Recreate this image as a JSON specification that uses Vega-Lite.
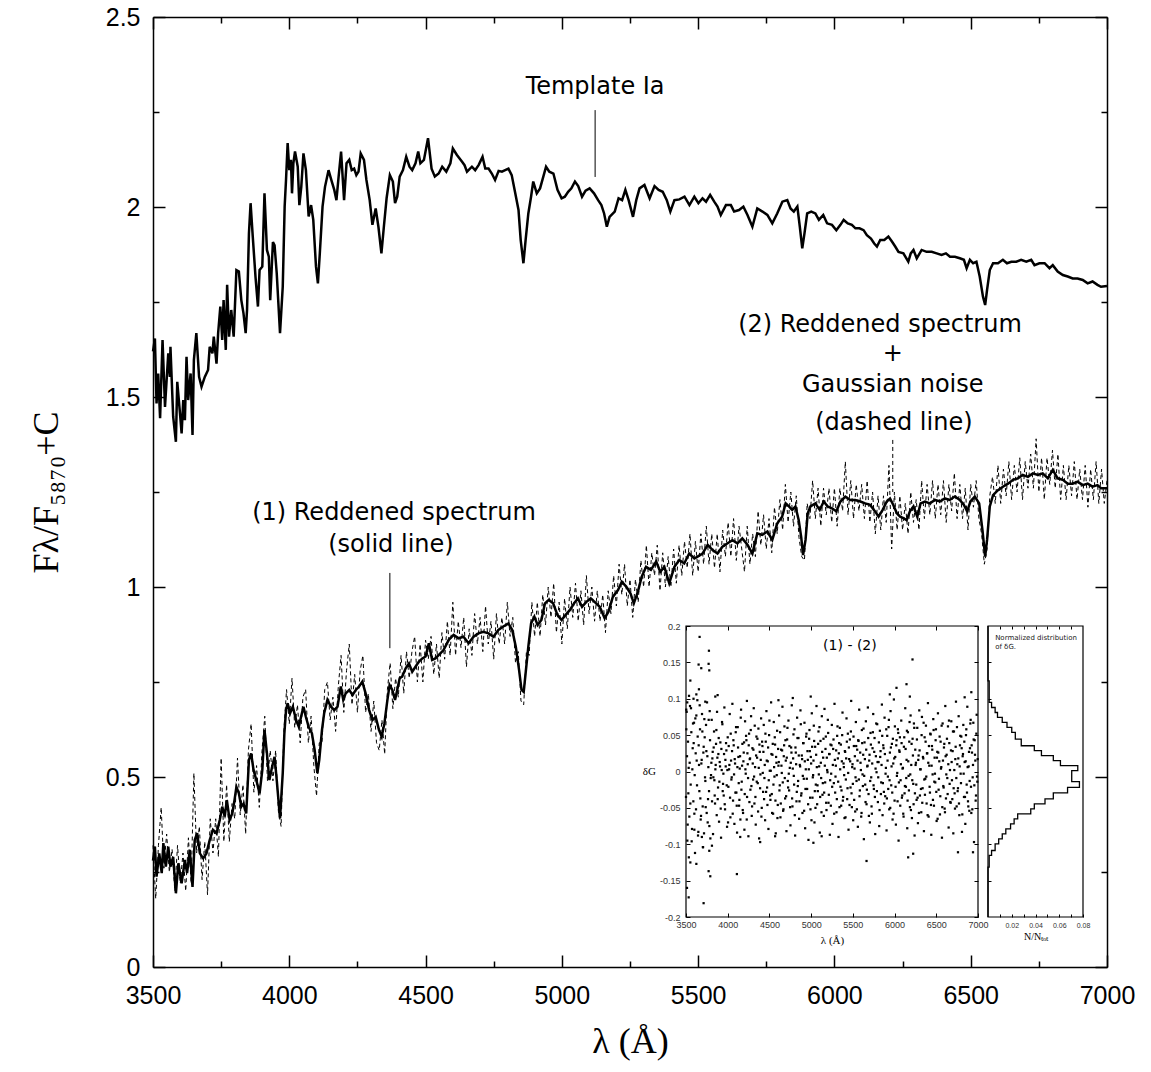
{
"$schema": "https://vega.github.io/schema/vega-lite/v6.json",
"width": 954, "height": 950,
"autosize": {"type": "none"},
"padding": {"left": 153, "top": 17, "right": 44, "bottom": 105},
"background": "white",
"config": {
  "view": {"stroke": null},
  "axis": {"grid": false, "domainColor": "black", "tickColor": "black", "labelColor": "black", "titleColor": "black", "titleFontWeight": "normal", "labelFlush": false, "labelOverlap": false}
},
"datasets": {
"tm": [{"w":3500,"v":1.62},{"w":3507,"v":1.654},{"w":3513,"v":1.483},{"w":3519,"v":1.562},{"w":3526,"v":1.444},{"w":3535,"v":1.65},{"w":3544,"v":1.474},{"w":3556,"v":1.615},{"w":3562,"v":1.553},{"w":3564,"v":1.632},{"w":3574,"v":1.448},{"w":3584,"v":1.382},{"w":3589,"v":1.54},{"w":3599,"v":1.457},{"w":3605,"v":1.404},{"w":3611,"v":1.492},{"w":3617,"v":1.439},{"w":3623,"v":1.606},{"w":3629,"v":1.492},{"w":3638,"v":1.562},{"w":3645,"v":1.4},{"w":3650,"v":1.597},{"w":3659,"v":1.668},{"w":3669,"v":1.553},{"w":3678,"v":1.527},{"w":3690,"v":1.553},{"w":3702,"v":1.571},{"w":3708,"v":1.632},{"w":3718,"v":1.615},{"w":3723,"v":1.659},{"w":3733,"v":1.588},{"w":3739,"v":1.668},{"w":3747,"v":1.738},{"w":3754,"v":1.65},{"w":3759,"v":1.755},{"w":3767,"v":1.624},{"w":3772,"v":1.795},{"w":3779,"v":1.659},{"w":3787,"v":1.729},{"w":3796,"v":1.659},{"w":3806,"v":1.834},{"w":3815,"v":1.83},{"w":3824,"v":1.755},{"w":3832,"v":1.72},{"w":3840,"v":1.668},{"w":3845,"v":1.729},{"w":3852,"v":1.931},{"w":3858,"v":2.01},{"w":3866,"v":1.922},{"w":3876,"v":1.817},{"w":3885,"v":1.738},{"w":3891,"v":1.834},{"w":3901,"v":1.843},{"w":3909,"v":2.036},{"w":3918,"v":1.887},{"w":3925,"v":1.869},{"w":3930,"v":1.755},{"w":3940,"v":1.908},{"w":3946,"v":1.899},{"w":3954,"v":1.825},{"w":3966,"v":1.668},{"w":3976,"v":1.79},{"w":3983,"v":2.001},{"w":3988,"v":2.071},{"w":3994,"v":2.168},{"w":4000,"v":2.097},{"w":4006,"v":2.124},{"w":4010,"v":2.036},{"w":4015,"v":2.115},{"w":4021,"v":2.146},{"w":4031,"v":2.106},{"w":4037,"v":2.005},{"w":4044,"v":2.053},{"w":4052,"v":2.141},{"w":4061,"v":2.097},{"w":4071,"v":1.975},{"w":4080,"v":2.005},{"w":4088,"v":1.966},{"w":4098,"v":1.843},{"w":4105,"v":1.799},{"w":4112,"v":1.878},{"w":4122,"v":2.001},{"w":4131,"v":2.053},{"w":4144,"v":2.097},{"w":4156,"v":2.067},{"w":4165,"v":2.045},{"w":4173,"v":2.018},{"w":4181,"v":2.08},{"w":4190,"v":2.146},{"w":4201,"v":2.018},{"w":4210,"v":2.115},{"w":4220,"v":2.124},{"w":4229,"v":2.097},{"w":4238,"v":2.101},{"w":4246,"v":2.084},{"w":4254,"v":2.093},{"w":4262,"v":2.141},{"w":4274,"v":2.124},{"w":4283,"v":2.071},{"w":4295,"v":2.018},{"w":4305,"v":1.953},{"w":4317,"v":1.996},{"w":4327,"v":1.948},{"w":4338,"v":1.878},{"w":4347,"v":1.948},{"w":4357,"v":2.023},{"w":4369,"v":2.084},{"w":4380,"v":2.067},{"w":4388,"v":2.01},{"w":4396,"v":2.027},{"w":4405,"v":2.08},{"w":4417,"v":2.097},{"w":4429,"v":2.132},{"w":4441,"v":2.106},{"w":4451,"v":2.097},{"w":4463,"v":2.115},{"w":4473,"v":2.146},{"w":4481,"v":2.115},{"w":4494,"v":2.124},{"w":4509,"v":2.181},{"w":4522,"v":2.101},{"w":4534,"v":2.08},{"w":4548,"v":2.088},{"w":4561,"v":2.106},{"w":4576,"v":2.093},{"w":4591,"v":2.115},{"w":4600,"v":2.154},{"w":4615,"v":2.137},{"w":4634,"v":2.119},{"w":4643,"v":2.11},{"w":4652,"v":2.093},{"w":4670,"v":2.106},{"w":4682,"v":2.097},{"w":4695,"v":2.111},{"w":4709,"v":2.132},{"w":4719,"v":2.101},{"w":4731,"v":2.101},{"w":4743,"v":2.088},{"w":4755,"v":2.071},{"w":4768,"v":2.095},{"w":4780,"v":2.093},{"w":4792,"v":2.097},{"w":4804,"v":2.101},{"w":4816,"v":2.084},{"w":4828,"v":2.04},{"w":4841,"v":1.992},{"w":4849,"v":1.913},{"w":4859,"v":1.852},{"w":4867,"v":1.913},{"w":4877,"v":1.983},{"w":4887,"v":2.027},{"w":4895,"v":2.067},{"w":4908,"v":2.036},{"w":4920,"v":2.049},{"w":4932,"v":2.08},{"w":4942,"v":2.106},{"w":4954,"v":2.093},{"w":4969,"v":2.088},{"w":4984,"v":2.045},{"w":4999,"v":2.023},{"w":5011,"v":2.027},{"w":5023,"v":2.04},{"w":5035,"v":2.049},{"w":5048,"v":2.067},{"w":5060,"v":2.055},{"w":5074,"v":2.027},{"w":5087,"v":2.043},{"w":5102,"v":2.049},{"w":5118,"v":2.036},{"w":5133,"v":2.018},{"w":5145,"v":2.005},{"w":5155,"v":1.983},{"w":5165,"v":1.948},{"w":5175,"v":1.974},{"w":5194,"v":1.988},{"w":5208,"v":2.023},{"w":5221,"v":2.018},{"w":5233,"v":2.045},{"w":5245,"v":2.018},{"w":5261,"v":1.974},{"w":5273,"v":2.018},{"w":5285,"v":2.049},{"w":5303,"v":2.058},{"w":5322,"v":2.023},{"w":5340,"v":2.055},{"w":5355,"v":2.045},{"w":5370,"v":2.04},{"w":5385,"v":2.018},{"w":5398,"v":1.988},{"w":5413,"v":2.018},{"w":5431,"v":2.02},{"w":5450,"v":2.027},{"w":5468,"v":2.005},{"w":5486,"v":2.027},{"w":5501,"v":2.01},{"w":5516,"v":2.023},{"w":5529,"v":2.014},{"w":5544,"v":2.032},{"w":5559,"v":2.014},{"w":5571,"v":2.001},{"w":5583,"v":1.979},{"w":5602,"v":2.005},{"w":5620,"v":2.005},{"w":5632,"v":1.988},{"w":5650,"v":1.992},{"w":5666,"v":2.001},{"w":5681,"v":1.979},{"w":5699,"v":1.948},{"w":5717,"v":1.996},{"w":5736,"v":1.988},{"w":5754,"v":1.979},{"w":5772,"v":1.957},{"w":5790,"v":1.983},{"w":5809,"v":2.014},{"w":5827,"v":2.018},{"w":5839,"v":1.996},{"w":5851,"v":1.988},{"w":5864,"v":2.001},{"w":5873,"v":1.948},{"w":5882,"v":1.891},{"w":5890,"v":1.93},{"w":5900,"v":1.983},{"w":5915,"v":1.988},{"w":5930,"v":1.983},{"w":5943,"v":1.966},{"w":5959,"v":1.979},{"w":5973,"v":1.957},{"w":5991,"v":1.953},{"w":6007,"v":1.939},{"w":6022,"v":1.953},{"w":6034,"v":1.966},{"w":6049,"v":1.957},{"w":6064,"v":1.953},{"w":6077,"v":1.944},{"w":6092,"v":1.944},{"w":6107,"v":1.939},{"w":6119,"v":1.926},{"w":6134,"v":1.917},{"w":6146,"v":1.904},{"w":6156,"v":1.896},{"w":6168,"v":1.913},{"w":6183,"v":1.913},{"w":6198,"v":1.922},{"w":6211,"v":1.909},{"w":6223,"v":1.896},{"w":6235,"v":1.882},{"w":6253,"v":1.878},{"w":6271,"v":1.856},{"w":6280,"v":1.878},{"w":6290,"v":1.887},{"w":6302,"v":1.865},{"w":6320,"v":1.887},{"w":6338,"v":1.882},{"w":6357,"v":1.882},{"w":6375,"v":1.878},{"w":6393,"v":1.874},{"w":6409,"v":1.878},{"w":6424,"v":1.869},{"w":6442,"v":1.869},{"w":6460,"v":1.865},{"w":6475,"v":1.861},{"w":6485,"v":1.839},{"w":6497,"v":1.861},{"w":6509,"v":1.852},{"w":6521,"v":1.856},{"w":6533,"v":1.817},{"w":6545,"v":1.764},{"w":6553,"v":1.742},{"w":6560,"v":1.782},{"w":6570,"v":1.834},{"w":6582,"v":1.852},{"w":6600,"v":1.852},{"w":6618,"v":1.861},{"w":6633,"v":1.852},{"w":6649,"v":1.856},{"w":6667,"v":1.856},{"w":6685,"v":1.861},{"w":6704,"v":1.856},{"w":6722,"v":1.861},{"w":6734,"v":1.847},{"w":6752,"v":1.852},{"w":6771,"v":1.852},{"w":6789,"v":1.839},{"w":6801,"v":1.847},{"w":6819,"v":1.83},{"w":6838,"v":1.821},{"w":6856,"v":1.817},{"w":6874,"v":1.812},{"w":6892,"v":1.812},{"w":6911,"v":1.808},{"w":6929,"v":1.799},{"w":6947,"v":1.804},{"w":6965,"v":1.795},{"w":6978,"v":1.79},{"w":7000,"v":1.792}],
"rd": [{"w":3500,"v":0.28},{"w":3507,"v":0.317},{"w":3513,"v":0.238},{"w":3523,"v":0.299},{"w":3532,"v":0.247},{"w":3538,"v":0.326},{"w":3547,"v":0.264},{"w":3556,"v":0.317},{"w":3564,"v":0.264},{"w":3574,"v":0.29},{"w":3584,"v":0.194},{"w":3593,"v":0.273},{"w":3605,"v":0.22},{"w":3617,"v":0.282},{"w":3625,"v":0.247},{"w":3635,"v":0.308},{"w":3645,"v":0.211},{"w":3653,"v":0.334},{"w":3662,"v":0.352},{"w":3672,"v":0.299},{"w":3684,"v":0.286},{"w":3696,"v":0.299},{"w":3708,"v":0.334},{"w":3720,"v":0.361},{"w":3733,"v":0.352},{"w":3745,"v":0.387},{"w":3754,"v":0.422},{"w":3763,"v":0.396},{"w":3771,"v":0.439},{"w":3781,"v":0.387},{"w":3791,"v":0.404},{"w":3799,"v":0.439},{"w":3806,"v":0.474},{"w":3815,"v":0.457},{"w":3824,"v":0.422},{"w":3832,"v":0.43},{"w":3842,"v":0.404},{"w":3852,"v":0.545},{"w":3860,"v":0.562},{"w":3869,"v":0.518},{"w":3879,"v":0.492},{"w":3891,"v":0.457},{"w":3901,"v":0.518},{"w":3909,"v":0.624},{"w":3918,"v":0.562},{"w":3927,"v":0.492},{"w":3937,"v":0.527},{"w":3946,"v":0.553},{"w":3954,"v":0.492},{"w":3966,"v":0.391},{"w":3976,"v":0.51},{"w":3982,"v":0.615},{"w":3988,"v":0.676},{"w":3994,"v":0.694},{"w":4003,"v":0.668},{"w":4013,"v":0.685},{"w":4025,"v":0.65},{"w":4035,"v":0.632},{"w":4043,"v":0.658},{"w":4052,"v":0.685},{"w":4061,"v":0.658},{"w":4071,"v":0.632},{"w":4083,"v":0.615},{"w":4093,"v":0.571},{"w":4103,"v":0.51},{"w":4110,"v":0.545},{"w":4120,"v":0.624},{"w":4128,"v":0.668},{"w":4140,"v":0.703},{"w":4153,"v":0.685},{"w":4165,"v":0.676},{"w":4177,"v":0.685},{"w":4189,"v":0.738},{"w":4198,"v":0.703},{"w":4207,"v":0.72},{"w":4220,"v":0.729},{"w":4232,"v":0.716},{"w":4244,"v":0.729},{"w":4256,"v":0.738},{"w":4268,"v":0.751},{"w":4280,"v":0.72},{"w":4293,"v":0.676},{"w":4305,"v":0.65},{"w":4317,"v":0.658},{"w":4329,"v":0.624},{"w":4339,"v":0.606},{"w":4349,"v":0.641},{"w":4360,"v":0.703},{"w":4368,"v":0.742},{"w":4378,"v":0.729},{"w":4388,"v":0.703},{"w":4396,"v":0.729},{"w":4405,"v":0.76},{"w":4414,"v":0.764},{"w":4427,"v":0.786},{"w":4439,"v":0.799},{"w":4451,"v":0.777},{"w":4463,"v":0.79},{"w":4475,"v":0.803},{"w":4488,"v":0.812},{"w":4500,"v":0.817},{"w":4512,"v":0.852},{"w":4524,"v":0.808},{"w":4536,"v":0.812},{"w":4548,"v":0.821},{"w":4566,"v":0.834},{"w":4585,"v":0.861},{"w":4603,"v":0.874},{"w":4621,"v":0.865},{"w":4639,"v":0.869},{"w":4658,"v":0.852},{"w":4676,"v":0.869},{"w":4694,"v":0.878},{"w":4712,"v":0.882},{"w":4731,"v":0.878},{"w":4749,"v":0.869},{"w":4767,"v":0.887},{"w":4785,"v":0.896},{"w":4804,"v":0.904},{"w":4818,"v":0.887},{"w":4831,"v":0.843},{"w":4843,"v":0.782},{"w":4852,"v":0.729},{"w":4860,"v":0.724},{"w":4867,"v":0.773},{"w":4877,"v":0.843},{"w":4887,"v":0.904},{"w":4899,"v":0.922},{"w":4911,"v":0.9},{"w":4925,"v":0.913},{"w":4938,"v":0.957},{"w":4952,"v":0.966},{"w":4968,"v":0.957},{"w":4984,"v":0.926},{"w":4999,"v":0.913},{"w":5013,"v":0.926},{"w":5029,"v":0.939},{"w":5045,"v":0.957},{"w":5059,"v":0.97},{"w":5074,"v":0.948},{"w":5090,"v":0.961},{"w":5106,"v":0.97},{"w":5120,"v":0.961},{"w":5139,"v":0.948},{"w":5157,"v":0.918},{"w":5171,"v":0.935},{"w":5187,"v":0.974},{"w":5206,"v":0.992},{"w":5220,"v":1.014},{"w":5236,"v":1.001},{"w":5252,"v":0.983},{"w":5264,"v":0.957},{"w":5279,"v":0.988},{"w":5293,"v":1.027},{"w":5309,"v":1.053},{"w":5327,"v":1.045},{"w":5346,"v":1.067},{"w":5361,"v":1.04},{"w":5376,"v":1.053},{"w":5394,"v":1.01},{"w":5413,"v":1.053},{"w":5431,"v":1.071},{"w":5449,"v":1.062},{"w":5467,"v":1.088},{"w":5486,"v":1.075},{"w":5498,"v":1.08},{"w":5516,"v":1.088},{"w":5535,"v":1.111},{"w":5553,"v":1.097},{"w":5571,"v":1.088},{"w":5589,"v":1.106},{"w":5608,"v":1.115},{"w":5626,"v":1.123},{"w":5644,"v":1.115},{"w":5662,"v":1.128},{"w":5681,"v":1.111},{"w":5699,"v":1.088},{"w":5717,"v":1.141},{"w":5735,"v":1.137},{"w":5754,"v":1.146},{"w":5772,"v":1.124},{"w":5790,"v":1.167},{"w":5808,"v":1.185},{"w":5821,"v":1.22},{"w":5833,"v":1.212},{"w":5845,"v":1.203},{"w":5857,"v":1.212},{"w":5869,"v":1.176},{"w":5878,"v":1.132},{"w":5885,"v":1.084},{"w":5894,"v":1.124},{"w":5902,"v":1.194},{"w":5912,"v":1.212},{"w":5930,"v":1.22},{"w":5946,"v":1.203},{"w":5961,"v":1.225},{"w":5975,"v":1.212},{"w":5991,"v":1.207},{"w":6007,"v":1.199},{"w":6022,"v":1.225},{"w":6040,"v":1.238},{"w":6058,"v":1.229},{"w":6076,"v":1.229},{"w":6095,"v":1.225},{"w":6113,"v":1.22},{"w":6131,"v":1.216},{"w":6149,"v":1.199},{"w":6162,"v":1.185},{"w":6177,"v":1.203},{"w":6192,"v":1.225},{"w":6204,"v":1.233},{"w":6216,"v":1.216},{"w":6229,"v":1.194},{"w":6241,"v":1.185},{"w":6253,"v":1.181},{"w":6265,"v":1.176},{"w":6277,"v":1.199},{"w":6290,"v":1.212},{"w":6304,"v":1.185},{"w":6316,"v":1.22},{"w":6332,"v":1.225},{"w":6350,"v":1.22},{"w":6369,"v":1.229},{"w":6387,"v":1.225},{"w":6405,"v":1.233},{"w":6423,"v":1.229},{"w":6442,"v":1.238},{"w":6460,"v":1.229},{"w":6475,"v":1.216},{"w":6487,"v":1.199},{"w":6499,"v":1.225},{"w":6515,"v":1.238},{"w":6531,"v":1.22},{"w":6543,"v":1.15},{"w":6553,"v":1.08},{"w":6560,"v":1.124},{"w":6570,"v":1.212},{"w":6582,"v":1.242},{"w":6600,"v":1.255},{"w":6618,"v":1.264},{"w":6637,"v":1.272},{"w":6655,"v":1.282},{"w":6673,"v":1.286},{"w":6691,"v":1.295},{"w":6710,"v":1.29},{"w":6728,"v":1.299},{"w":6746,"v":1.295},{"w":6764,"v":1.299},{"w":6783,"v":1.286},{"w":6801,"v":1.308},{"w":6819,"v":1.286},{"w":6838,"v":1.282},{"w":6856,"v":1.272},{"w":6874,"v":1.272},{"w":6892,"v":1.277},{"w":6911,"v":1.268},{"w":6929,"v":1.272},{"w":6947,"v":1.264},{"w":6965,"v":1.268},{"w":6978,"v":1.26},{"w":7000,"v":1.26}],
"ns": [{"w":3500,"v":0.32},{"w":3510,"v":0.18},{"w":3520,"v":0.32},{"w":3530,"v":0.42},{"w":3540,"v":0.26},{"w":3550,"v":0.35},{"w":3560,"v":0.25},{"w":3570,"v":0.31},{"w":3580,"v":0.2},{"w":3590,"v":0.32},{"w":3600,"v":0.22},{"w":3610,"v":0.3},{"w":3620,"v":0.2},{"w":3630,"v":0.34},{"w":3640,"v":0.22},{"w":3650,"v":0.51},{"w":3660,"v":0.3},{"w":3670,"v":0.37},{"w":3680,"v":0.23},{"w":3690,"v":0.33},{"w":3700,"v":0.19},{"w":3710,"v":0.39},{"w":3720,"v":0.3},{"w":3730,"v":0.39},{"w":3740,"v":0.29},{"w":3750,"v":0.55},{"w":3760,"v":0.33},{"w":3770,"v":0.48},{"w":3780,"v":0.33},{"w":3790,"v":0.43},{"w":3800,"v":0.39},{"w":3810,"v":0.55},{"w":3820,"v":0.4},{"w":3830,"v":0.48},{"w":3840,"v":0.35},{"w":3850,"v":0.57},{"w":3860,"v":0.64},{"w":3870,"v":0.46},{"w":3880,"v":0.53},{"w":3890,"v":0.42},{"w":3900,"v":0.57},{"w":3910,"v":0.66},{"w":3920,"v":0.49},{"w":3930,"v":0.57},{"w":3940,"v":0.49},{"w":3950,"v":0.57},{"w":3960,"v":0.41},{"w":3970,"v":0.37},{"w":3980,"v":0.62},{"w":3990,"v":0.73},{"w":4000,"v":0.64},{"w":4010,"v":0.76},{"w":4020,"v":0.63},{"w":4030,"v":0.69},{"w":4040,"v":0.59},{"w":4050,"v":0.71},{"w":4060,"v":0.73},{"w":4070,"v":0.59},{"w":4080,"v":0.66},{"w":4090,"v":0.53},{"w":4100,"v":0.45},{"w":4110,"v":0.59},{"w":4120,"v":0.59},{"w":4130,"v":0.73},{"w":4140,"v":0.75},{"w":4150,"v":0.65},{"w":4160,"v":0.71},{"w":4170,"v":0.62},{"w":4180,"v":0.74},{"w":4190,"v":0.82},{"w":4200,"v":0.67},{"w":4210,"v":0.78},{"w":4220,"v":0.85},{"w":4230,"v":0.69},{"w":4240,"v":0.77},{"w":4250,"v":0.67},{"w":4260,"v":0.78},{"w":4270,"v":0.82},{"w":4280,"v":0.67},{"w":4290,"v":0.72},{"w":4300,"v":0.62},{"w":4310,"v":0.7},{"w":4320,"v":0.59},{"w":4330,"v":0.57},{"w":4340,"v":0.65},{"w":4350,"v":0.56},{"w":4360,"v":0.73},{"w":4370,"v":0.8},{"w":4380,"v":0.68},{"w":4390,"v":0.76},{"w":4400,"v":0.71},{"w":4410,"v":0.82},{"w":4420,"v":0.72},{"w":4430,"v":0.83},{"w":4440,"v":0.76},{"w":4450,"v":0.83},{"w":4460,"v":0.87},{"w":4470,"v":0.75},{"w":4480,"v":0.85},{"w":4490,"v":0.75},{"w":4500,"v":0.86},{"w":4510,"v":0.81},{"w":4520,"v":0.87},{"w":4530,"v":0.77},{"w":4540,"v":0.85},{"w":4550,"v":0.76},{"w":4560,"v":0.88},{"w":4570,"v":0.81},{"w":4580,"v":0.91},{"w":4590,"v":0.82},{"w":4600,"v":0.96},{"w":4610,"v":0.82},{"w":4620,"v":0.91},{"w":4630,"v":0.84},{"w":4640,"v":0.92},{"w":4650,"v":0.79},{"w":4660,"v":0.89},{"w":4670,"v":0.82},{"w":4680,"v":0.93},{"w":4690,"v":0.85},{"w":4700,"v":0.92},{"w":4710,"v":0.83},{"w":4720,"v":0.95},{"w":4730,"v":0.85},{"w":4740,"v":0.91},{"w":4750,"v":0.81},{"w":4760,"v":0.93},{"w":4770,"v":0.85},{"w":4780,"v":0.92},{"w":4790,"v":0.85},{"w":4800,"v":0.96},{"w":4810,"v":0.87},{"w":4820,"v":0.92},{"w":4830,"v":0.8},{"w":4840,"v":0.83},{"w":4850,"v":0.7},{"w":4860,"v":0.69},{"w":4870,"v":0.83},{"w":4880,"v":0.82},{"w":4890,"v":0.96},{"w":4900,"v":0.87},{"w":4910,"v":0.96},{"w":4920,"v":0.87},{"w":4930,"v":0.98},{"w":4940,"v":0.9},{"w":4950,"v":1.0},{"w":4960,"v":0.92},{"w":4970,"v":1.01},{"w":4980,"v":0.88},{"w":4990,"v":0.96},{"w":5000,"v":0.85},{"w":5010,"v":0.97},{"w":5020,"v":0.89},{"w":5030,"v":1.0},{"w":5040,"v":0.92},{"w":5050,"v":1.01},{"w":5060,"v":0.91},{"w":5070,"v":0.99},{"w":5080,"v":0.9},{"w":5090,"v":1.03},{"w":5100,"v":0.93},{"w":5110,"v":1.0},{"w":5120,"v":0.91},{"w":5130,"v":0.99},{"w":5140,"v":0.91},{"w":5150,"v":0.98},{"w":5160,"v":0.88},{"w":5170,"v":0.99},{"w":5180,"v":0.93},{"w":5190,"v":1.03},{"w":5200,"v":0.95},{"w":5210,"v":1.06},{"w":5220,"v":0.98},{"w":5230,"v":1.06},{"w":5240,"v":0.95},{"w":5250,"v":1.02},{"w":5260,"v":0.92},{"w":5270,"v":1.02},{"w":5280,"v":0.96},{"w":5290,"v":1.07},{"w":5300,"v":1.0},{"w":5310,"v":1.11},{"w":5320,"v":1.0},{"w":5330,"v":1.09},{"w":5340,"v":1.03},{"w":5350,"v":1.11},{"w":5360,"v":0.99},{"w":5370,"v":1.09},{"w":5380,"v":1.0},{"w":5390,"v":1.08},{"w":5400,"v":1.0},{"w":5410,"v":1.1},{"w":5420,"v":1.01},{"w":5430,"v":1.11},{"w":5440,"v":1.03},{"w":5450,"v":1.12},{"w":5460,"v":1.05},{"w":5470,"v":1.14},{"w":5480,"v":1.03},{"w":5490,"v":1.12},{"w":5500,"v":1.04},{"w":5510,"v":1.14},{"w":5520,"v":1.06},{"w":5530,"v":1.16},{"w":5540,"v":1.06},{"w":5550,"v":1.14},{"w":5560,"v":1.05},{"w":5570,"v":1.14},{"w":5580,"v":1.04},{"w":5590,"v":1.15},{"w":5600,"v":1.08},{"w":5610,"v":1.17},{"w":5620,"v":1.08},{"w":5630,"v":1.18},{"w":5640,"v":1.07},{"w":5650,"v":1.16},{"w":5660,"v":1.1},{"w":5670,"v":1.04},{"w":5680,"v":1.16},{"w":5690,"v":1.06},{"w":5700,"v":1.14},{"w":5710,"v":1.08},{"w":5720,"v":1.2},{"w":5730,"v":1.11},{"w":5740,"v":1.19},{"w":5750,"v":1.1},{"w":5760,"v":1.18},{"w":5770,"v":1.09},{"w":5780,"v":1.21},{"w":5790,"v":1.14},{"w":5800,"v":1.23},{"w":5810,"v":1.15},{"w":5820,"v":1.27},{"w":5830,"v":1.17},{"w":5840,"v":1.25},{"w":5850,"v":1.16},{"w":5860,"v":1.24},{"w":5870,"v":1.13},{"w":5880,"v":1.08},{"w":5890,"v":1.07},{"w":5900,"v":1.22},{"w":5910,"v":1.18},{"w":5920,"v":1.28},{"w":5930,"v":1.18},{"w":5940,"v":1.26},{"w":5950,"v":1.16},{"w":5960,"v":1.26},{"w":5970,"v":1.19},{"w":5980,"v":1.26},{"w":5990,"v":1.17},{"w":6000,"v":1.26},{"w":6010,"v":1.16},{"w":6020,"v":1.26},{"w":6030,"v":1.2},{"w":6040,"v":1.33},{"w":6050,"v":1.19},{"w":6060,"v":1.28},{"w":6070,"v":1.18},{"w":6080,"v":1.27},{"w":6090,"v":1.2},{"w":6100,"v":1.27},{"w":6110,"v":1.18},{"w":6120,"v":1.28},{"w":6130,"v":1.17},{"w":6140,"v":1.25},{"w":6150,"v":1.14},{"w":6160,"v":1.24},{"w":6170,"v":1.15},{"w":6180,"v":1.24},{"w":6190,"v":1.17},{"w":6200,"v":1.32},{"w":6210,"v":1.1},{"w":6220,"v":1.25},{"w":6230,"v":1.15},{"w":6240,"v":1.24},{"w":6250,"v":1.15},{"w":6260,"v":1.22},{"w":6270,"v":1.14},{"w":6280,"v":1.25},{"w":6290,"v":1.17},{"w":6300,"v":1.23},{"w":6310,"v":1.15},{"w":6320,"v":1.28},{"w":6330,"v":1.18},{"w":6340,"v":1.27},{"w":6350,"v":1.19},{"w":6360,"v":1.28},{"w":6370,"v":1.18},{"w":6380,"v":1.27},{"w":6390,"v":1.19},{"w":6400,"v":1.28},{"w":6410,"v":1.17},{"w":6420,"v":1.27},{"w":6430,"v":1.2},{"w":6440,"v":1.3},{"w":6450,"v":1.18},{"w":6460,"v":1.27},{"w":6470,"v":1.18},{"w":6480,"v":1.26},{"w":6490,"v":1.15},{"w":6500,"v":1.27},{"w":6510,"v":1.21},{"w":6520,"v":1.28},{"w":6530,"v":1.18},{"w":6540,"v":1.14},{"w":6550,"v":1.06},{"w":6560,"v":1.1},{"w":6570,"v":1.24},{"w":6580,"v":1.29},{"w":6590,"v":1.22},{"w":6600,"v":1.32},{"w":6610,"v":1.22},{"w":6620,"v":1.31},{"w":6630,"v":1.24},{"w":6640,"v":1.33},{"w":6650,"v":1.23},{"w":6660,"v":1.32},{"w":6670,"v":1.25},{"w":6680,"v":1.34},{"w":6690,"v":1.23},{"w":6700,"v":1.33},{"w":6710,"v":1.26},{"w":6720,"v":1.35},{"w":6730,"v":1.26},{"w":6740,"v":1.39},{"w":6750,"v":1.25},{"w":6760,"v":1.34},{"w":6770,"v":1.23},{"w":6780,"v":1.34},{"w":6790,"v":1.27},{"w":6800,"v":1.36},{"w":6810,"v":1.26},{"w":6820,"v":1.35},{"w":6830,"v":1.23},{"w":6840,"v":1.32},{"w":6850,"v":1.23},{"w":6860,"v":1.32},{"w":6870,"v":1.24},{"w":6880,"v":1.33},{"w":6890,"v":1.23},{"w":6900,"v":1.31},{"w":6910,"v":1.23},{"w":6920,"v":1.32},{"w":6930,"v":1.21},{"w":6940,"v":1.31},{"w":6950,"v":1.23},{"w":6960,"v":1.33},{"w":6970,"v":1.22},{"w":6980,"v":1.31},{"w":6990,"v":1.22},{"w":7000,"v":1.28}],
"dg": [{"w":3500,"g":-0.035},{"w":3508,"g":0.082},{"w":3516,"g":-0.095},{"w":3524,"g":0.041},{"w":3532,"g":0.005},{"w":3540,"g":-0.062},{"w":3548,"g":0.09},{"w":3556,"g":-0.018},{"w":3564,"g":0.054},{"w":3572,"g":-0.079},{"w":3580,"g":0.032},{"w":3588,"g":-0.041},{"w":3596,"g":0.067},{"w":3604,"g":-0.005},{"w":3612,"g":0.073},{"w":3620,"g":-0.052},{"w":3628,"g":0.015},{"w":3636,"g":0.098},{"w":3644,"g":-0.088},{"w":3652,"g":0.036},{"w":3660,"g":-0.027},{"w":3668,"g":0.058},{"w":3676,"g":-0.066},{"w":3684,"g":0.011},{"w":3692,"g":0.079},{"w":3700,"g":-0.048},{"w":3708,"g":0.026},{"w":3716,"g":-0.085},{"w":3724,"g":0.047},{"w":3732,"g":-0.013},{"w":3740,"g":0.064},{"w":3748,"g":-0.057},{"w":3756,"g":0.021},{"w":3764,"g":-0.038},{"w":3772,"g":0.071},{"w":3780,"g":-0.075},{"w":3788,"g":0.043},{"w":3796,"g":-0.009},
{"w":3804,"g":0.012},{"w":3812,"g":-0.041},{"w":3820,"g":0.027},{"w":3828,"g":-0.008},{"w":3836,"g":0.055},{"w":3844,"g":-0.033},{"w":3852,"g":0.003},{"w":3860,"g":0.038},{"w":3868,"g":-0.06},{"w":3876,"g":0.019},
{"w":3884,"g":-0.022},{"w":3892,"g":0.046},{"w":3900,"g":-0.014},{"w":3908,"g":0.007},{"w":3916,"g":-0.051},{"w":3924,"g":0.031},{"w":3932,"g":0.068},{"w":3940,"g":-0.027},{"w":3948,"g":-0.003},{"w":3956,"g":0.024},
{"w":3964,"g":-0.045},{"w":3972,"g":0.016},{"w":3980,"g":0.039},{"w":3988,"g":-0.019},{"w":3996,"g":0.002},{"w":4004,"g":-0.07},{"w":4012,"g":0.035},{"w":4020,"g":0.009},{"w":4028,"g":-0.036},{"w":4036,"g":0.052},
{"w":4044,"g":-0.011},{"w":4052,"g":0.028},{"w":4060,"g":-0.058},{"w":4068,"g":0.043},{"w":4076,"g":-0.004},{"w":4084,"g":0.017},{"w":4092,"g":-0.029},{"w":4100,"g":0.061},{"w":4108,"g":-0.047},{"w":4116,"g":0.006},
{"w":4124,"g":0.033},{"w":4132,"g":-0.016},{"w":4140,"g":-0.039},{"w":4148,"g":0.021},{"w":4156,"g":0.074},{"w":4164,"g":-0.025},{"w":4172,"g":0.008},{"w":4180,"g":-0.053},{"w":4188,"g":0.014},{"w":4196,"g":0.04},
{"w":4204,"g":-0.031},{"w":4212,"g":0.003},{"w":4220,"g":0.049},{"w":4228,"g":-0.066},{"w":4236,"g":0.025},{"w":4244,"g":-0.009},{"w":4252,"g":0.036},{"w":4260,"g":-0.042},{"w":4268,"g":0.018},{"w":4276,"g":0.057},
{"w":4284,"g":-0.02},{"w":4292,"g":-0.048},{"w":4300,"g":0.011},{"w":4308,"g":0.03},{"w":4316,"g":-0.007},{"w":4324,"g":0.063},{"w":4332,"g":-0.035},{"w":4340,"g":0.022},{"w":4348,"g":-0.014},{"w":4356,"g":0.045},
{"w":4364,"g":-0.055},{"w":4372,"g":0.005},{"w":4380,"g":0.037},{"w":4388,"g":-0.023},{"w":4396,"g":0.016},{"w":4404,"g":-0.062},{"w":4412,"g":0.041},{"w":4420,"g":-0.002},{"w":4428,"g":0.027},{"w":4436,"g":-0.038},
{"w":4444,"g":0.009},{"w":4452,"g":0.052},{"w":4460,"g":-0.028},{"w":4468,"g":0.015},{"w":4476,"g":-0.046},{"w":4484,"g":0.033},{"w":4492,"g":-0.012},{"w":4500,"g":0.07},{"w":4508,"g":-0.033},{"w":4516,"g":0.001},
{"w":4524,"g":0.024},{"w":4532,"g":-0.057},{"w":4540,"g":0.038},{"w":4548,"g":-0.018},{"w":4556,"g":0.006},{"w":4564,"g":0.047},{"w":4572,"g":-0.04},{"w":4580,"g":0.02},{"w":4588,"g":-0.005},{"w":4596,"g":-0.064},
{"w":4604,"g":0.031},{"w":4612,"g":0.013},{"w":4620,"g":-0.026},{"w":4628,"g":0.054},{"w":4636,"g":-0.044},{"w":4644,"g":0.008},{"w":4652,"g":0.029},{"w":4660,"g":-0.015},{"w":4668,"g":-0.052},{"w":4676,"g":0.036},
{"w":4684,"g":-0.009},{"w":4692,"g":0.043},{"w":4700,"g":-0.034},{"w":4708,"g":0.019},{"w":4716,"g":0.06},{"w":4724,"g":-0.022},{"w":4732,"g":-0.003},{"w":4740,"g":0.035},{"w":4748,"g":-0.049},{"w":4756,"g":0.012},
{"w":4764,"g":0.026},{"w":4772,"g":-0.037},{"w":4780,"g":0.004},{"w":4788,"g":0.051},{"w":4796,"g":-0.018},{"w":4804,"g":-0.06},{"w":4812,"g":0.033},{"w":4820,"g":0.01},{"w":4828,"g":-0.028},{"w":4836,"g":0.046},
{"w":4844,"g":-0.013},{"w":4852,"g":0.022},{"w":4860,"g":-0.041},{"w":4868,"g":0.007},{"w":4876,"g":0.065},{"w":4884,"g":-0.03},{"w":4892,"g":0.017},{"w":4900,"g":-0.006},{"w":4908,"g":0.039},{"w":4916,"g":-0.054},
{"w":4924,"g":0.014},{"w":4932,"g":-0.024},{"w":4940,"g":0.048},{"w":4948,"g":-0.01},{"w":4956,"g":0.028},{"w":4964,"g":-0.045},{"w":4972,"g":0.003},{"w":4980,"g":0.057},{"w":4988,"g":-0.036},{"w":4996,"g":0.02},
{"w":5004,"g":-0.067},{"w":5012,"g":0.034},{"w":5020,"g":-0.008},{"w":5028,"g":0.015},{"w":5036,"g":0.042},{"w":5044,"g":-0.027},{"w":5052,"g":-0.05},{"w":5060,"g":0.023},{"w":5068,"g":0.006},{"w":5076,"g":-0.019},
{"w":5084,"g":0.038},{"w":5092,"g":-0.004},{"w":5100,"g":0.061},{"w":5108,"g":-0.035},{"w":5116,"g":0.012},{"w":5124,"g":-0.056},{"w":5132,"g":0.027},{"w":5140,"g":-0.016},{"w":5148,"g":0.045},{"w":5156,"g":-0.029},
{"w":5164,"g":0.008},{"w":5172,"g":0.031},{"w":5180,"g":-0.043},{"w":5188,"g":0.019},{"w":5196,"g":-0.001},{"w":5204,"g":0.053},{"w":5212,"g":-0.032},{"w":5220,"g":0.024},{"w":5228,"g":-0.012},{"w":5236,"g":-0.047},
{"w":5244,"g":0.036},{"w":5252,"g":-0.021},{"w":5260,"g":0.009},{"w":5268,"g":0.044},{"w":5276,"g":-0.058},{"w":5284,"g":0.016},{"w":5292,"g":-0.007},{"w":5300,"g":0.029},{"w":5308,"g":-0.038},{"w":5316,"g":0.062},
{"w":5324,"g":-0.014},{"w":5332,"g":0.025},{"w":5340,"g":-0.049},{"w":5348,"g":0.003},{"w":5356,"g":0.037},{"w":5364,"g":-0.026},{"w":5372,"g":0.05},{"w":5380,"g":-0.04},{"w":5388,"g":0.011},{"w":5396,"g":-0.005},
{"w":5404,"g":0.028},{"w":5412,"g":-0.063},{"w":5420,"g":0.018},{"w":5428,"g":0.041},{"w":5436,"g":-0.023},{"w":5444,"g":-0.002},{"w":5452,"g":0.033},{"w":5460,"g":-0.046},{"w":5468,"g":0.014},{"w":5476,"g":0.055},
{"w":5484,"g":-0.03},{"w":5492,"g":0.006},{"w":5500,"g":-0.017},{"w":5508,"g":0.048},{"w":5516,"g":-0.039},{"w":5524,"g":0.021},{"w":5532,"g":-0.008},{"w":5540,"g":0.035},{"w":5548,"g":-0.052},{"w":5556,"g":0.015},
{"w":5564,"g":0.043},{"w":5572,"g":-0.011},{"w":5580,"g":-0.034},{"w":5588,"g":0.026},{"w":5596,"g":0.002},{"w":5604,"g":-0.057},{"w":5612,"g":0.039},{"w":5620,"g":-0.02},{"w":5628,"g":0.059},{"w":5636,"g":-0.006},
{"w":5644,"g":0.017},{"w":5652,"g":-0.042},{"w":5660,"g":0.03},{"w":5668,"g":-0.025},{"w":5676,"g":0.008},{"w":5684,"g":0.046},{"w":5692,"g":-0.061},{"w":5700,"g":0.023},{"w":5708,"g":-0.013},{"w":5716,"g":0.037},
{"w":5724,"g":-0.048},{"w":5732,"g":0.011},{"w":5740,"g":0.054},{"w":5748,"g":-0.019},{"w":5756,"g":0.027},{"w":5764,"g":-0.035},{"w":5772,"g":0.004},{"w":5780,"g":0.066},{"w":5788,"g":-0.027},{"w":5796,"g":0.013},
{"w":5804,"g":-0.008},{"w":5812,"g":0.04},{"w":5820,"g":-0.053},{"w":5828,"g":0.02},{"w":5836,"g":-0.031},{"w":5844,"g":0.009},{"w":5852,"g":0.049},{"w":5860,"g":-0.016},{"w":5868,"g":0.032},{"w":5876,"g":-0.044},
{"w":5884,"g":0.024},{"w":5892,"g":-0.003},{"w":5900,"g":0.058},{"w":5908,"g":-0.037},{"w":5916,"g":0.015},{"w":5924,"g":-0.024},{"w":5932,"g":0.071},{"w":5940,"g":-0.012},{"w":5948,"g":-0.05},{"w":5956,"g":0.033},
{"w":5964,"g":0.007},{"w":5972,"g":-0.029},{"w":5980,"g":0.045},{"w":5988,"g":-0.058},{"w":5996,"g":0.018},{"w":6004,"g":0.062},{"w":6012,"g":-0.021},{"w":6020,"g":0.036},{"w":6028,"g":-0.006},{"w":6036,"g":-0.041},
{"w":6044,"g":0.053},{"w":6052,"g":-0.015},{"w":6060,"g":0.027},{"w":6068,"g":-0.047},{"w":6076,"g":0.01},{"w":6084,"g":0.039},{"w":6092,"g":-0.033},{"w":6100,"g":0.005},{"w":6108,"g":-0.062},{"w":6116,"g":0.047},
{"w":6124,"g":-0.02},{"w":6132,"g":0.031},{"w":6140,"g":-0.009},{"w":6148,"g":0.056},{"w":6156,"g":-0.04},{"w":6164,"g":0.014},{"w":6172,"g":-0.026},{"w":6180,"g":0.068},{"w":6188,"g":-0.004},{"w":6196,"g":-0.053},
{"w":6204,"g":0.038},{"w":6212,"g":-0.012},{"w":6220,"g":0.022},{"w":6228,"g":-0.045},{"w":6236,"g":0.06},{"w":6244,"g":-0.03},{"w":6252,"g":0.009},{"w":6260,"g":-0.018},{"w":6268,"g":0.044},{"w":6276,"g":-0.036},
{"w":6284,"g":0.016},{"w":6292,"g":-0.057},{"w":6300,"g":0.029},{"w":6308,"g":0.003},{"w":6316,"g":-0.024},{"w":6324,"g":0.05},{"w":6332,"g":-0.043},{"w":6340,"g":0.02},{"w":6348,"g":0.067},{"w":6356,"g":-0.011},
{"w":6364,"g":-0.032},{"w":6372,"g":0.041},{"w":6380,"g":-0.007},{"w":6388,"g":0.025},{"w":6396,"g":-0.06},{"w":6404,"g":0.012},{"w":6412,"g":0.035},{"w":6420,"g":-0.021},{"w":6428,"g":0.052},{"w":6436,"g":-0.046},
{"w":6444,"g":0.008},{"w":6452,"g":0.03},{"w":6460,"g":-0.039},{"w":6468,"g":0.057},{"w":6476,"g":-0.014},{"w":6484,"g":-0.003},{"w":6492,"g":0.043},{"w":6500,"g":-0.028},{"w":6508,"g":0.019},{"w":6516,"g":-0.065},
{"w":6524,"g":0.026},{"w":6532,"g":-0.01},{"w":6540,"g":0.048},{"w":6548,"g":-0.034},{"w":6556,"g":0.004},{"w":6564,"g":0.063},{"w":6572,"g":-0.049},{"w":6580,"g":0.015},{"w":6588,"g":-0.022},{"w":6596,"g":0.038},
{"w":6604,"g":-0.056},{"w":6612,"g":0.021},{"w":6620,"g":-0.004},{"w":6628,"g":0.045},{"w":6636,"g":-0.031},{"w":6644,"g":0.01},{"w":6652,"g":0.07},{"w":6660,"g":-0.017},{"w":6668,"g":-0.042},{"w":6676,"g":0.029},
{"w":6684,"g":0.013},{"w":6692,"g":-0.038},{"w":6700,"g":0.055},{"w":6708,"g":-0.023},{"w":6716,"g":0.002},{"w":6724,"g":-0.051},{"w":6732,"g":0.034},{"w":6740,"g":-0.009},{"w":6748,"g":0.061},{"w":6756,"g":-0.027},
{"w":6764,"g":0.018},{"w":6772,"g":-0.044},{"w":6780,"g":0.007},{"w":6788,"g":0.049},{"w":6796,"g":-0.016},{"w":6804,"g":0.032},{"w":6812,"g":-0.059},{"w":6820,"g":0.024},{"w":6828,"g":-0.003},{"w":6836,"g":0.041},
{"w":6844,"g":-0.035},{"w":6852,"g":0.014},{"w":6860,"g":0.058},{"w":6868,"g":-0.029},{"w":6876,"g":0.006},{"w":6884,"g":-0.048},{"w":6892,"g":0.027},{"w":6900,"g":-0.013},{"w":6908,"g":0.066},{"w":6916,"g":-0.021},
{"w":6924,"g":0.036},{"w":6932,"g":-0.052},{"w":6940,"g":0.009},{"w":6948,"g":0.044},{"w":6956,"g":-0.019},{"w":6964,"g":0.023},{"w":6972,"g":-0.04},{"w":6980,"g":0.052},{"w":6988,"g":-0.007},{"w":6996,"g":0.017},
{"w":3504,"g":0.058},{"w":3512,"g":0.021},{"w":3520,"g":-0.073},{"w":3528,"g":-0.03},{"w":3536,"g":0.104},{"w":3544,"g":0.012},{"w":3552,"g":-0.044},{"w":3560,"g":0.087},{"w":3568,"g":-0.096},{"w":3576,"g":0.003},{"w":3584,"g":0.066},{"w":3592,"g":0.039},{"w":3600,"g":-0.058},{"w":3608,"g":-0.112},{"w":3616,"g":0.025},{"w":3624,"g":0.077},{"w":3632,"g":-0.019},{"w":3640,"g":0.048},{"w":3648,"g":-0.083},{"w":3656,"g":0.009},{"w":3664,"g":0.091},{"w":3672,"g":-0.037},{"w":3680,"g":-0.061},{"w":3688,"g":0.016},{"w":3696,"g":0.055},{"w":3704,"g":-0.104},{"w":3712,"g":0.034},{"w":3720,"g":0.072},{"w":3728,"g":-0.008},{"w":3736,"g":-0.049},{"w":3744,"g":0.028},{"w":3752,"g":0.095},{"w":3760,"g":-0.07},{"w":3768,"g":0.006},{"w":3776,"g":-0.027},{"w":3784,"g":0.083},{"w":3792,"g":-0.092},
{"w":3800,"g":-0.005},{"w":3808,"g":0.071},{"w":3816,"g":0.018},{"w":3824,"g":-0.086},{"w":3832,"g":0.033},{"w":3840,"g":-0.012},{"w":3848,"g":-0.044},{"w":3856,"g":0.009},{"w":3864,"g":0.057},{"w":3872,"g":0.082},
{"w":3880,"g":-0.038},{"w":3888,"g":0.024},{"w":3896,"g":-0.069},{"w":3904,"g":0.013},{"w":3912,"g":0.04},{"w":3920,"g":-0.091},{"w":3928,"g":0.002},{"w":3936,"g":0.065},{"w":3944,"g":-0.017},{"w":3952,"g":-0.033},
{"w":3960,"g":0.088},{"w":3968,"g":-0.052},{"w":3976,"g":0.007},{"w":3984,"g":0.029},{"w":3992,"g":-0.076},{"w":4000,"g":0.047},{"w":4008,"g":-0.021},{"w":4016,"g":0.003},{"w":4024,"g":0.079},{"w":4032,"g":-0.063},
{"w":4040,"g":0.015},{"w":4048,"g":-0.008},{"w":4056,"g":0.093},{"w":4064,"g":-0.04},{"w":4072,"g":0.036},{"w":4080,"g":-0.072},{"w":4088,"g":0.011},{"w":4096,"g":0.054},{"w":4104,"g":-0.029},{"w":4112,"g":-0.084},
{"w":4120,"g":0.061},{"w":4128,"g":0.02},{"w":4136,"g":-0.047},{"w":4144,"g":0.004},{"w":4152,"g":-0.066},{"w":4160,"g":0.085},{"w":4168,"g":-0.014},{"w":4176,"g":0.038},{"w":4184,"g":-0.057},{"w":4192,"g":0.026},
{"w":4200,"g":-0.08},{"w":4208,"g":0.069},{"w":4216,"g":-0.003},{"w":4224,"g":0.043},{"w":4232,"g":-0.035},{"w":4240,"g":0.01},{"w":4248,"g":-0.089},{"w":4256,"g":0.052},{"w":4264,"g":0.017},{"w":4272,"g":-0.025},
{"w":4280,"g":0.076},{"w":4288,"g":-0.061},{"w":4296,"g":0.032},{"w":4304,"g":-0.011},{"w":4312,"g":0.087},{"w":4320,"g":-0.044},{"w":4328,"g":0.006},{"w":4336,"g":-0.073},{"w":4344,"g":0.048},{"w":4352,"g":0.019},
{"w":4360,"g":-0.016},{"w":4368,"g":0.059},{"w":4376,"g":-0.092},{"w":4384,"g":0.027},{"w":4392,"g":-0.004},{"w":4400,"g":0.073},{"w":4408,"g":-0.05},{"w":4416,"g":0.035},{"w":4424,"g":-0.028},{"w":4432,"g":0.064},
{"w":4440,"g":-0.009},{"w":4448,"g":-0.067},{"w":4456,"g":0.041},{"w":4464,"g":0.083},{"w":4472,"g":-0.022},{"w":4480,"g":0.014},{"w":4488,"g":-0.079},{"w":4496,"g":0.05},{"w":4504,"g":0.001},{"w":4512,"g":-0.039},
{"w":4520,"g":0.095},{"w":4528,"g":-0.031},{"w":4536,"g":0.023},{"w":4544,"g":-0.058},{"w":4552,"g":0.068},{"w":4560,"g":-0.007},{"w":4568,"g":0.037},{"w":4576,"g":-0.085},{"w":4584,"g":0.012},{"w":4592,"g":0.056},
{"w":4600,"g":-0.046},{"w":4608,"g":0.008},{"w":4616,"g":0.077},{"w":4624,"g":-0.019},{"w":4632,"g":-0.063},{"w":4640,"g":0.03},{"w":4648,"g":-0.002},{"w":4656,"g":0.089},{"w":4664,"g":-0.054},{"w":4672,"g":0.021},
{"w":4680,"g":0.062},{"w":4688,"g":-0.037},{"w":4696,"g":0.015},{"w":4704,"g":-0.082},{"w":4712,"g":0.044},{"w":4720,"g":-0.013},{"w":4728,"g":0.07},{"w":4736,"g":-0.026},{"w":4744,"g":0.005},{"w":4752,"g":-0.074},
{"w":4760,"g":0.033},{"w":4768,"g":0.091},{"w":4776,"g":-0.048},{"w":4784,"g":0.018},{"w":4792,"g":-0.006},{"w":4800,"g":0.058},{"w":4808,"g":-0.088},{"w":4816,"g":0.026},{"w":4824,"g":-0.041},{"w":4832,"g":0.074},
{"w":4840,"g":-0.02},{"w":4848,"g":0.046},{"w":4856,"g":-0.065},{"w":4864,"g":0.009},{"w":4872,"g":0.084},{"w":4880,"g":-0.033},{"w":4888,"g":0.022},{"w":4896,"g":-0.057},{"w":4904,"g":0.039},{"w":4912,"g":-0.01},
{"w":4920,"g":0.067},{"w":4928,"g":-0.078},{"w":4936,"g":0.003},{"w":4944,"g":0.052},{"w":4952,"g":-0.024},{"w":4960,"g":0.016},{"w":4968,"g":-0.094},{"w":4976,"g":0.045},{"w":4984,"g":0.028},{"w":4992,"g":-0.052},
{"w":5000,"g":0.011},{"w":5008,"g":0.08},{"w":5016,"g":-0.036},{"w":5024,"g":-0.005},{"w":5032,"g":0.063},{"w":5040,"g":-0.07},{"w":5048,"g":0.034},{"w":5056,"g":-0.018},{"w":5064,"g":0.09},{"w":5072,"g":-0.045},
{"w":5080,"g":-0.027},{"w":5088,"g":0.055},{"w":5096,"g":0.007},{"w":5104,"g":-0.084},{"w":5112,"g":0.042},{"w":5120,"g":-0.009},{"w":5128,"g":0.076},{"w":5136,"g":-0.032},{"w":5144,"g":0.019},{"w":5152,"g":-0.061},
{"w":5160,"g":0.086},{"w":5168,"g":-0.015},{"w":5176,"g":0.048},{"w":5184,"g":-0.053},{"w":5192,"g":0.002},{"w":5200,"g":0.071},{"w":5208,"g":-0.043},{"w":5216,"g":0.024},{"w":5224,"g":-0.087},{"w":5232,"g":0.037},
{"w":5240,"g":-0.003},{"w":5248,"g":0.064},{"w":5256,"g":-0.072},{"w":5264,"g":0.031},{"w":5272,"g":-0.016},{"w":5280,"g":0.093},{"w":5288,"g":-0.029},{"w":5296,"g":0.008},{"w":5304,"g":-0.056},{"w":5312,"g":0.049},
{"w":5320,"g":0.018},{"w":5328,"g":-0.09},{"w":5336,"g":0.039},{"w":5344,"g":0.06},{"w":5352,"g":-0.021},{"w":5360,"g":-0.047},{"w":5368,"g":0.014},{"w":5376,"g":0.081},{"w":5384,"g":-0.035},{"w":5392,"g":0.006},
{"w":5400,"g":-0.064},{"w":5408,"g":0.027},{"w":5416,"g":-0.011},{"w":5424,"g":0.073},{"w":5432,"g":-0.038},{"w":5440,"g":0.052},{"w":5448,"g":-0.08},{"w":5456,"g":0.017},{"w":5464,"g":0.044},{"w":5472,"g":-0.022},
{"w":5480,"g":0.097},{"w":5488,"g":-0.049},{"w":5496,"g":0.01},{"w":5504,"g":-0.067},{"w":5512,"g":0.035},{"w":5520,"g":0.004},{"w":5528,"g":-0.055},{"w":5536,"g":0.068},{"w":5544,"g":-0.013},{"w":5552,"g":0.03},
{"w":5560,"g":-0.076},{"w":5568,"g":0.042},{"w":5576,"g":0.085},{"w":5584,"g":-0.026},{"w":5592,"g":0.012},{"w":5600,"g":-0.062},{"w":5608,"g":0.057},{"w":5616,"g":-0.004},{"w":5624,"g":0.023},{"w":5632,"g":-0.093},
{"w":5640,"g":0.04},{"w":5648,"g":-0.018},{"w":5656,"g":0.069},{"w":5664,"g":-0.045},{"w":5672,"g":0.007},{"w":5680,"g":0.088},{"w":5688,"g":-0.031},{"w":5696,"g":0.015},{"w":5704,"g":-0.07},{"w":5712,"g":0.053},
{"w":5720,"g":-0.008},{"w":5728,"g":-0.058},{"w":5736,"g":0.032},{"w":5744,"g":0.079},{"w":5752,"g":-0.024},{"w":5760,"g":0.046},{"w":5768,"g":-0.086},{"w":5776,"g":0.021},{"w":5784,"g":-0.001},{"w":5792,"g":0.065},
{"w":5800,"g":-0.042},{"w":5808,"g":0.013},{"w":5816,"g":-0.075},{"w":5824,"g":0.056},{"w":5832,"g":0.028},{"w":5840,"g":-0.015},{"w":5848,"g":0.092},{"w":5856,"g":-0.06},{"w":5864,"g":0.036},{"w":5872,"g":-0.028},
{"w":5880,"g":0.074},{"w":5888,"g":-0.034},{"w":5896,"g":0.005},{"w":5904,"g":-0.081},{"w":5912,"g":0.049},{"w":5920,"g":-0.007},{"w":5928,"g":0.061},{"w":5936,"g":-0.052},{"w":5944,"g":0.026},{"w":5952,"g":0.083},
{"w":5960,"g":-0.019},{"w":5968,"g":0.038},{"w":5976,"g":-0.066},{"w":5984,"g":0.011},{"w":5992,"g":0.099},{"w":6000,"g":-0.04},{"w":6008,"g":0.02},{"w":6016,"g":-0.073},{"w":6024,"g":0.043},{"w":6032,"g":-0.002},
{"w":6040,"g":0.058},{"w":6048,"g":-0.095},{"w":6056,"g":0.029},{"w":6064,"g":0.047},{"w":6072,"g":-0.012},{"w":6080,"g":0.07},{"w":6088,"g":-0.036},{"w":6096,"g":0.004},{"w":6104,"g":-0.058},{"w":6112,"g":0.034},
{"w":6120,"g":-0.03},{"w":6128,"g":0.087},{"w":6136,"g":-0.021},{"w":6144,"g":0.016},{"w":6152,"g":-0.078},{"w":6160,"g":0.054},{"w":6168,"g":-0.006},{"w":6176,"g":0.041},{"w":6184,"g":-0.049},{"w":6192,"g":0.077},
{"w":6200,"g":0.009},{"w":6208,"g":-0.064},{"w":6216,"g":0.045},{"w":6224,"g":-0.017},{"w":6232,"g":0.066},{"w":6240,"g":-0.088},{"w":6248,"g":0.03},{"w":6256,"g":0.012},{"w":6264,"g":-0.039},{"w":6272,"g":0.06},
{"w":6280,"g":-0.071},{"w":6288,"g":0.022},{"w":6296,"g":0.084},{"w":6304,"g":-0.033},{"w":6312,"g":0.003},{"w":6320,"g":-0.056},{"w":6328,"g":0.075},{"w":6336,"g":-0.023},{"w":6344,"g":0.018},{"w":6352,"g":-0.082},
{"w":6360,"g":0.047},{"w":6368,"g":-0.01},{"w":6376,"g":0.063},{"w":6384,"g":-0.044},{"w":6392,"g":0.025},{"w":6400,"g":0.094},{"w":6408,"g":-0.062},{"w":6416,"g":0.008},{"w":6424,"g":-0.029},{"w":6432,"g":0.051},
{"w":6440,"g":-0.087},{"w":6448,"g":0.035},{"w":6456,"g":-0.004},{"w":6464,"g":0.072},{"w":6472,"g":-0.047},{"w":6480,"g":0.019},{"w":6488,"g":-0.015},{"w":6496,"g":0.058},{"w":6504,"g":-0.068},{"w":6512,"g":0.027},
{"w":6520,"g":0.08},{"w":6528,"g":-0.025},{"w":6536,"g":0.014},{"w":6544,"g":-0.059},{"w":6552,"g":0.041},{"w":6560,"g":0.006},{"w":6568,"g":-0.091},{"w":6576,"g":0.066},{"w":6584,"g":-0.02},{"w":6592,"g":0.033},
{"w":6600,"g":-0.051},{"w":6608,"g":0.09},{"w":6616,"g":-0.037},{"w":6624,"g":0.023},{"w":6632,"g":-0.009},{"w":6640,"g":0.062},{"w":6648,"g":-0.077},{"w":6656,"g":0.039},{"w":6664,"g":0.002},{"w":6672,"g":-0.043},
{"w":6680,"g":0.069},{"w":6688,"g":-0.012},{"w":6696,"g":0.028},{"w":6704,"g":-0.085},{"w":6712,"g":0.055},{"w":6720,"g":-0.03},{"w":6728,"g":0.017},{"w":6736,"g":0.096},{"w":6744,"g":-0.048},{"w":6752,"g":0.01},
{"w":6760,"g":-0.023},{"w":6768,"g":0.076},{"w":6776,"g":-0.06},{"w":6784,"g":0.036},{"w":6792,"g":-0.003},{"w":6800,"g":0.048},{"w":6808,"g":-0.083},{"w":6816,"g":0.021},{"w":6824,"g":0.064},{"w":6832,"g":-0.035},
{"w":6840,"g":0.013},{"w":6848,"g":-0.072},{"w":6856,"g":0.05},{"w":6864,"g":-0.018},{"w":6872,"g":0.089},{"w":6880,"g":-0.041},{"w":6888,"g":0.007},{"w":6896,"g":-0.054},{"w":6904,"g":0.032},{"w":6912,"g":0.071},
{"w":6920,"g":-0.057},{"w":6928,"g":0.026},{"w":6936,"g":-0.008},{"w":6944,"g":0.067},{"w":6952,"g":-0.097},{"w":6960,"g":0.043},{"w":6968,"g":0.015},{"w":6976,"g":-0.033},{"w":6984,"g":0.078},{"w":6992,"g":-0.014},
{"w":3552,"g":0.125},{"w":3663,"g":0.185},{"w":3651,"g":0.147},{"w":3683,"g":0.142},{"w":3771,"g":0.148},{"w":3775,"g":0.166},{"w":3779,"g":0.139},{"w":3624,"g":0.106},{"w":3655,"g":0.113},{"w":3731,"g":0.096},{"w":3512,"g":-0.16},{"w":3532,"g":-0.173},{"w":3711,"g":-0.181},{"w":3771,"g":-0.137},{"w":3791,"g":-0.144},{"w":3534,"g":-0.118},{"w":3552,"g":-0.125},{"w":3624,"g":-0.127},{"w":3703,"g":-0.104},{"w":3779,"g":-0.109},{"w":3811,"g":-0.102},{"w":4110,"g":-0.141},{"w":4150,"g":-0.09},{"w":4389,"g":-0.097},{"w":4568,"g":-0.089},{"w":5027,"g":-0.098},{"w":5126,"g":-0.089},{"w":5664,"g":-0.123},{"w":6163,"g":-0.118},{"w":6223,"g":-0.113},{"w":6215,"g":0.154},{"w":6143,"g":0.12},{"w":6183,"g":0.103},{"w":6023,"g":0.115},{"w":5943,"g":0.106},{"w":6760,"g":-0.111},{"w":6940,"g":-0.111},{"w":6920,"g":0.109},{"w":6840,"g":0.102},{"w":4995,"g":0.103},{"w":4780,"g":0.101},{"w":4230,"g":0.097},{"w":4608,"g":0.098},{"w":3879,"g":0.105},{"w":3851,"g":0.103},{"w":3503,"g":0.085},{"w":3515,"g":0.095},{"w":3590,"g":0.1},{"w":3600,"g":-0.08},{"w":3690,"g":-0.09}],
"hs": [{"g":-0.2,"n":0},{"g":-0.1314,"n":0.001},{"g":-0.1154,"n":0.003},{"g":-0.1086,"n":0.006},{"g":-0.0994,"n":0.009},{"g":-0.0926,"n":0.012},{"g":-0.0857,"n":0.015},{"g":-0.0789,"n":0.019},{"g":-0.072,"n":0.022},{"g":-0.0651,"n":0.025},{"g":-0.0583,"n":0.036},{"g":-0.0514,"n":0.039},{"g":-0.0446,"n":0.048},{"g":-0.0377,"n":0.055},{"g":-0.0295,"n":0.067},{"g":-0.0217,"n":0.077},{"g":-0.0139,"n":0.0705},{"g":-0.0057,"n":0.0705},{"g":0.0011,"n":0.0756},{"g":0.008,"n":0.061},{"g":0.0149,"n":0.055},{"g":0.0217,"n":0.045},{"g":0.0286,"n":0.039},{"g":0.0354,"n":0.028},{"g":0.0446,"n":0.023},{"g":0.0537,"n":0.02},{"g":0.0606,"n":0.016},{"g":0.0674,"n":0.012},{"g":0.0743,"n":0.008},{"g":0.0811,"n":0.006},{"g":0.088,"n":0.003},{"g":0.0949,"n":0.001},{"g":0.1246,"n":0},{"g":0.2,"n":0}],
"lab": [{"w":5122,"v":2.316,"t":"Template Ia"},{"w":6167,"v":1.689,"t":"(2) Reddened spectrum"},{"w":6214,"v":1.612,"t":"+"},{"w":6214,"v":1.532,"t":"Gaussian noise"},{"w":6218,"v":1.432,"t":"(dashed line)"},{"w":4384,"v":1.195,"t":"(1) Reddened spectrum"},{"w":4373,"v":1.111,"t":"(solid line)"}],
"ptr": [{"w":5122,"a":2.255,"b":2.079},{"w":4369,"a":1.037,"b":0.839}],
"ptr2": [{"w":6214,"a":1.387,"b":1.25}],
"box": [{"x1":3500,"x2":7000,"y1":-0.2,"y2":0.2}],
"box2": [{"x1":0,"x2":0.08,"y1":-0.2,"y2":0.2}],
"il": [{"w":5465,"g":0.1726,"t":"(1) - (2)"}],
"hl": [{"n":0.006,"g":0.183,"t":"Normalized distribution"},{"n":0.006,"g":0.171,"t":"of δG."}]
},
"layer": [
 {
  "layer": [
   {
    "data": {"name": "tm"},
    "mark": {"type": "line", "color": "black", "strokeWidth": 2.5},
    "encoding": {
     "x": {"field": "w", "type": "quantitative", "scale": {"domain": [3500, 7000], "nice": false, "zero": false},
       "axis": {"orient": "bottom", "values": [3500,4000,4500,5000,5500,6000,6500,7000], "tickSize": -12, "tickWidth": 1.5, "domainWidth": 1.5, "labelFont": "Liberation Sans", "labelFontSize": 25, "labelPadding": 28, "labelExpr": "'' + datum.value", "title": "λ (Å)", "titleFont": "Liberation Serif", "titleFontSize": 36, "titlePadding": 16}},
     "y": {"field": "v", "type": "quantitative", "scale": {"domain": [0, 2.5], "nice": false, "zero": false},
       "axis": {"orient": "left", "values": [0,0.5,1,1.5,2,2.5], "tickSize": -12, "tickWidth": 1.5, "domainWidth": 1.5, "labelFont": "Liberation Sans", "labelFontSize": 25, "labelPadding": 25, "labelExpr": "'' + datum.value", "title": "Fλ/F₅₈₇₀+C", "titleFont": "Liberation Serif", "titleFontSize": 36, "titlePadding": 40}}
    }
   },
   {
    "data": {"name": "ns"},
    "mark": {"type": "line", "color": "black", "strokeWidth": 1, "strokeDash": [4, 3]},
    "encoding": {
     "x": {"field": "w", "type": "quantitative", "scale": {"domain": [3500, 7000], "nice": false, "zero": false},
       "axis": {"orient": "top", "values": [3500,4000,4500,5000,5500,6000,6500,7000], "tickSize": -12, "tickWidth": 1.5, "domainWidth": 1.5, "labels": false, "title": null}},
     "y": {"field": "v", "type": "quantitative", "scale": {"domain": [0, 2.5], "nice": false, "zero": false},
       "axis": {"orient": "right", "values": [0,0.5,1,1.5,2,2.5], "tickSize": -12, "tickWidth": 1.5, "domainWidth": 1.5, "labels": false, "title": null}}
    }
   },
   {
    "data": {"name": "rd"},
    "mark": {"type": "line", "color": "black", "strokeWidth": 2.5},
    "encoding": {
     "x": {"field": "w", "type": "quantitative", "scale": {"domain": [3500, 7000], "nice": false, "zero": false},
       "axis": {"orient": "bottom", "values": [3750,4250,4750,5250,5750,6250,6750], "tickSize": -6, "tickWidth": 1.5, "domain": false, "labels": false, "title": null}},
     "y": {"field": "v", "type": "quantitative", "scale": {"domain": [0, 2.5], "nice": false, "zero": false},
       "axis": {"orient": "left", "values": [0.25,0.75,1.25,1.75,2.25], "tickSize": -6, "tickWidth": 1.5, "domain": false, "labels": false, "title": null}}
    }
   },
   {
    "data": {"name": "ptr"},
    "mark": {"type": "rule", "color": "black", "strokeWidth": 1},
    "encoding": {
     "x": {"field": "w", "type": "quantitative", "scale": {"domain": [3500, 7000], "nice": false, "zero": false},
       "axis": {"orient": "top", "values": [3750,4250,4750,5250,5750,6250,6750], "tickSize": -6, "tickWidth": 1.5, "domain": false, "labels": false, "title": null}},
     "y": {"field": "a", "type": "quantitative", "scale": {"domain": [0, 2.5], "nice": false, "zero": false},
       "axis": {"orient": "right", "values": [0.25,0.75,1.25,1.75,2.25], "tickSize": -6, "tickWidth": 1.5, "domain": false, "labels": false, "title": null}},
     "y2": {"field": "b"}
    }
   },
   {
    "data": {"name": "ptr2"},
    "mark": {"type": "rule", "color": "black", "strokeWidth": 1, "strokeDash": [4, 3]},
    "encoding": {
     "x": {"field": "w", "type": "quantitative", "scale": {"domain": [3500, 7000], "nice": false, "zero": false}, "axis": null},
     "y": {"field": "a", "type": "quantitative", "scale": {"domain": [0, 2.5], "nice": false, "zero": false}, "axis": null},
     "y2": {"field": "b"}
    }
   },
   {
    "data": {"name": "lab"},
    "mark": {"type": "text", "font": "DejaVu Sans", "fontSize": 24, "color": "black", "align": "center", "baseline": "middle"},
    "encoding": {
     "x": {"field": "w", "type": "quantitative", "scale": {"domain": [3500, 7000], "nice": false, "zero": false}, "axis": null},
     "y": {"field": "v", "type": "quantitative", "scale": {"domain": [0, 2.5], "nice": false, "zero": false}, "axis": null},
     "text": {"field": "t"}
    }
   }
  ],
  "resolve": {"axis": {"x": "independent", "y": "independent"}}
 },
 {
  "layer": [
   {
    "data": {"name": "box"},
    "mark": {"type": "rect", "fill": "white", "stroke": "black", "strokeWidth": 1.2},
    "encoding": {
     "x": {"field": "x1", "type": "quantitative", "scale": {"domain": [3500, 7000], "nice": false, "zero": false, "range": [533, 825]},
       "axis": {"orient": "top", "offset": -609, "values": [3500,4000,4500,5000,5500,6000,6500,7000], "tickSize": -4, "domain": false, "labels": false, "title": null, "zindex": 2}},
     "x2": {"field": "x2"},
     "y": {"field": "y1", "type": "quantitative", "scale": {"domain": [-0.2, 0.2], "nice": false, "zero": false, "range": [900, 609]},
       "axis": {"orient": "right", "offset": -129, "values": [-0.2,-0.15,-0.1,-0.05,0,0.05,0.1,0.15,0.2], "tickSize": -4, "domain": false, "labels": false, "title": null, "zindex": 2}},
     "y2": {"field": "y2"}
    }
   },
   {
    "data": {"name": "dg"},
    "mark": {"type": "square", "size": 5, "color": "black", "opacity": 1},
    "encoding": {
     "x": {"field": "w", "type": "quantitative", "scale": {"domain": [3500, 7000], "nice": false, "zero": false, "range": [533, 825]},
       "axis": {"orient": "bottom", "offset": -50, "values": [3500,4000,4500,5000,5500,6000,6500,7000], "tickSize": -4, "domain": false, "labelFont": "Liberation Sans", "labelFontSize": 9, "labelColor": "#333", "labelPadding": 7, "labelExpr": "'' + datum.value", "title": "λ (Å)", "titleFont": "Liberation Serif", "titleFontSize": 11, "titlePadding": 5, "zindex": 2}},
     "y": {"field": "g", "type": "quantitative", "scale": {"domain": [-0.2, 0.2], "nice": false, "zero": false, "range": [900, 609]},
       "axis": {"orient": "left", "offset": -533, "values": [-0.2,-0.15,-0.1,-0.05,0,0.05,0.1,0.15,0.2], "tickSize": -4, "domain": false, "labelFont": "Liberation Sans", "labelFontSize": 9, "labelColor": "#333", "labelPadding": 10, "labelExpr": "'' + datum.value", "title": "δG", "titleAngle": 0, "titleAlign": "right", "titleBaseline": "middle", "titleFont": "Liberation Serif", "titleFontSize": 11, "titlePadding": 4, "zindex": 2}}
    }
   },
   {
    "data": {"name": "il"},
    "mark": {"type": "text", "font": "DejaVu Sans", "fontSize": 14, "color": "black", "align": "center", "baseline": "middle"},
    "encoding": {
     "x": {"field": "w", "type": "quantitative", "scale": {"domain": [3500, 7000], "nice": false, "zero": false, "range": [533, 825]}, "axis": null},
     "y": {"field": "g", "type": "quantitative", "scale": {"domain": [-0.2, 0.2], "nice": false, "zero": false, "range": [900, 609]}, "axis": null},
     "text": {"field": "t"}
    }
   }
  ],
  "resolve": {"axis": {"x": "independent", "y": "independent"}}
 },
 {
  "layer": [
   {
    "data": {"name": "box2"},
    "mark": {"type": "rect", "fill": "white", "stroke": "black", "strokeWidth": 1.2},
    "encoding": {
     "x": {"field": "x1", "type": "quantitative", "scale": {"domain": [0, 0.08], "nice": false, "zero": false, "range": [835, 930]},
       "axis": {"orient": "top", "offset": -609, "values": [0.01,0.02,0.03,0.04,0.05,0.06,0.07], "tickSize": -3, "domain": false, "labels": false, "title": null, "zindex": 2}},
     "x2": {"field": "x2"},
     "y": {"field": "y1", "type": "quantitative", "scale": {"domain": [-0.2, 0.2], "nice": false, "zero": false, "range": [900, 609]}, "axis": null},
     "y2": {"field": "y2"}
    }
   },
   {
    "data": {"name": "hs"},
    "mark": {"type": "line", "interpolate": "step-before", "color": "black", "strokeWidth": 1.3},
    "encoding": {
     "x": {"field": "n", "type": "quantitative", "scale": {"domain": [0, 0.08], "nice": false, "zero": false, "range": [835, 930]},
       "axis": {"orient": "bottom", "offset": -50, "values": [0.01,0.02,0.03,0.04,0.05,0.06,0.07,0.08], "tickSize": -3, "domain": false, "labelFont": "Liberation Sans", "labelFontSize": 7, "labelColor": "#333", "labelPadding": 7, "labelExpr": "datum.value == 0.02 || datum.value == 0.04 || datum.value == 0.06 || datum.value == 0.08 ? '' + datum.value : ''", "title": "N/Nₜₒₜ", "titleFont": "Liberation Serif", "titleFontSize": 10, "titlePadding": 3, "zindex": 2}},
     "y": {"field": "g", "type": "quantitative", "scale": {"domain": [-0.2, 0.2], "nice": false, "zero": false, "range": [900, 609]},
       "axis": {"orient": "left", "offset": -835, "values": [-0.15,-0.1,-0.05,0,0.05,0.1,0.15], "tickSize": -3, "domain": false, "labels": false, "title": null, "zindex": 2}},
     "order": {"field": "g", "type": "quantitative", "sort": "ascending"}
    }
   },
   {
    "data": {"name": "hl"},
    "mark": {"type": "text", "font": "DejaVu Sans", "fontSize": 7, "color": "#222", "align": "left", "baseline": "middle"},
    "encoding": {
     "x": {"field": "n", "type": "quantitative", "scale": {"domain": [0, 0.08], "nice": false, "zero": false, "range": [835, 930]}, "axis": null},
     "y": {"field": "g", "type": "quantitative", "scale": {"domain": [-0.2, 0.2], "nice": false, "zero": false, "range": [900, 609]}, "axis": null},
     "text": {"field": "t"}
    }
   }
  ],
  "resolve": {"axis": {"x": "independent", "y": "independent"}}
 }
],
"resolve": {"scale": {"x": "independent", "y": "independent"}, "axis": {"x": "independent", "y": "independent"}}
}
